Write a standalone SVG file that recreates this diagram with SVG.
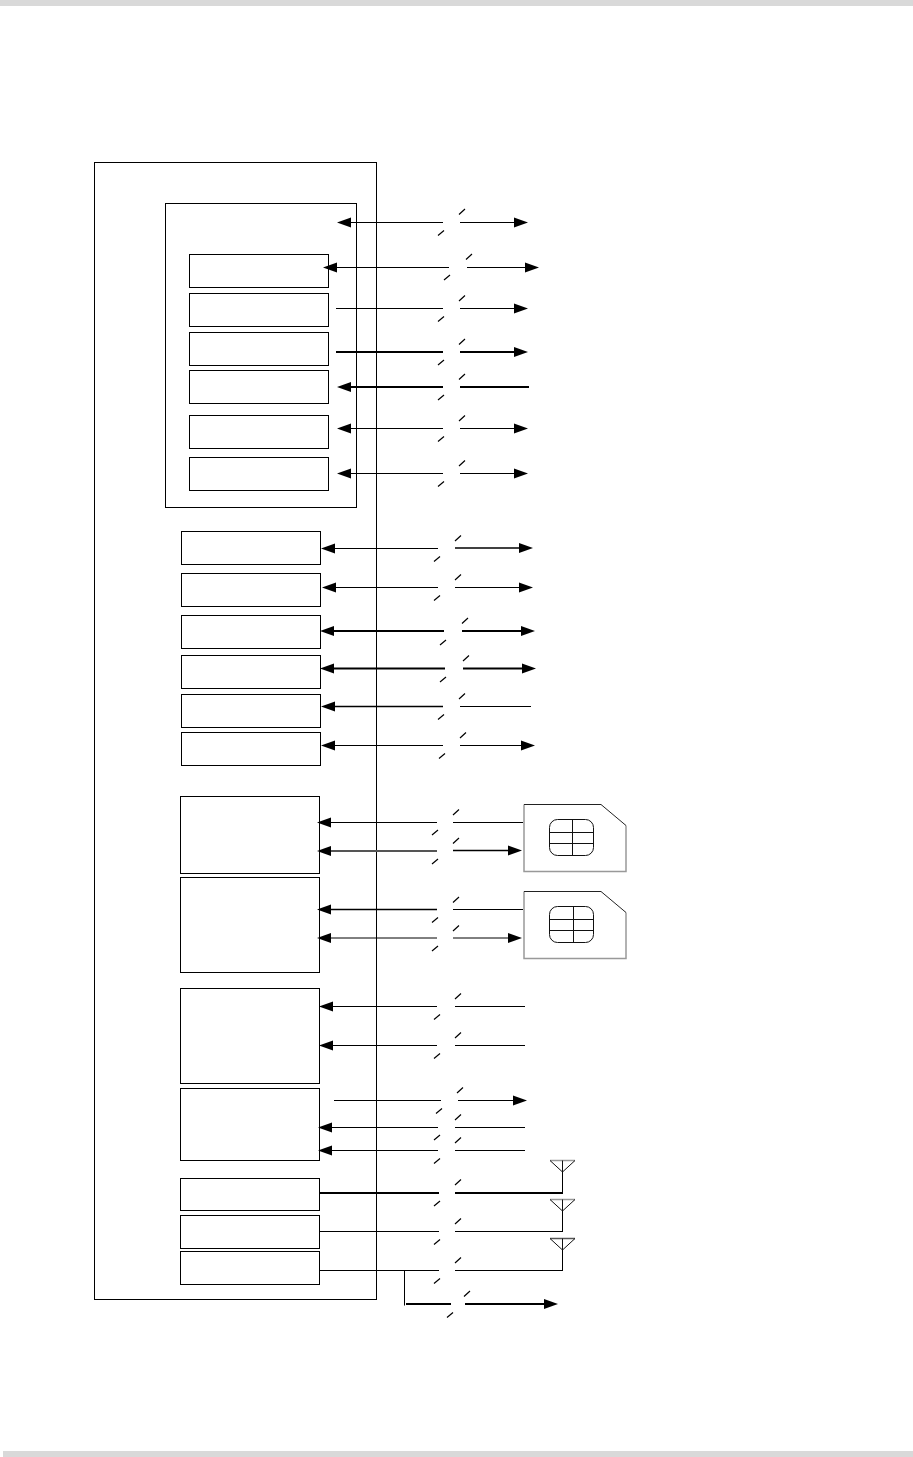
<svg xmlns="http://www.w3.org/2000/svg" width="913" height="1457" viewBox="0 0 913 1457">
<style>
.b{fill:none;stroke:#000;stroke-width:1}
.l{fill:none;stroke:#000;stroke-width:1}
.t{fill:none;stroke:#000;stroke-width:2}
.m{fill:none;stroke:#000;stroke-width:1.5}
.s{fill:none;stroke:#000;stroke-width:1.2}
.as{marker-start:url(#a)}
.ae{marker-end:url(#a)}
.sim{fill:#fff;stroke:none}
.e1{fill:none;stroke:#222;stroke-width:1}
.e2{fill:none;stroke:#999;stroke-width:1.5}
.g{fill:none;stroke:#111;stroke-width:1}
.at{fill:none;stroke:#999;stroke-width:1.5}
</style>
<defs>
<marker id="a" markerUnits="userSpaceOnUse" markerWidth="15" markerHeight="11" refX="4.500" refY="5.500" orient="auto-start-reverse"><path d="M0.500 0.500L14.500 5.500L0.500 10.500z" fill="#000"/></marker>
</defs>
<rect x="0" y="0" width="913" height="6" fill="#d9d9d9"/>
<rect x="3" y="1451" width="910" height="6" fill="#d9d9d9"/>
<g id="outer"><rect class="b" x="94.5" y="162.5" width="282" height="1137"/></g>
<g id="inner"><rect class="b" x="165.5" y="203.5" width="191" height="304"/></g>
<g id="n1"><rect class="b" x="189.5" y="254.5" width="139" height="33"/></g>
<g id="n2"><rect class="b" x="189.5" y="293.5" width="139" height="33"/></g>
<g id="n3"><rect class="b" x="189.5" y="332.5" width="139" height="33"/></g>
<g id="n4"><rect class="b" x="189.5" y="370.5" width="139" height="33"/></g>
<g id="n5"><rect class="b" x="189.5" y="415.5" width="139" height="33"/></g>
<g id="n6"><rect class="b" x="189.5" y="457.5" width="139" height="33"/></g>
<g id="n7"><rect class="b" x="181.5" y="531.5" width="139" height="33"/></g>
<g id="n8"><rect class="b" x="181.5" y="573.5" width="139" height="33"/></g>
<g id="n9"><rect class="b" x="181.5" y="615.5" width="139" height="33"/></g>
<g id="n10"><rect class="b" x="181.5" y="655.5" width="139" height="33"/></g>
<g id="n11"><rect class="b" x="181.5" y="694.5" width="139" height="33"/></g>
<g id="n12"><rect class="b" x="181.5" y="732.5" width="139" height="33"/></g>
<g id="n13"><rect class="b" x="180.5" y="796.5" width="139" height="77"/></g>
<g id="n14"><rect class="b" x="180.5" y="877.5" width="139" height="95"/></g>
<g id="n15"><rect class="b" x="180.5" y="988.5" width="139" height="95"/></g>
<g id="n16"><rect class="b" x="180.5" y="1088.5" width="139" height="72"/></g>
<g id="n17"><rect class="b" x="180.5" y="1178.5" width="139" height="32"/></g>
<g id="n18"><rect class="b" x="180.5" y="1215.5" width="139" height="33"/></g>
<g id="n19"><rect class="b" x="180.5" y="1251.5" width="139" height="33"/></g>
<g id="sim1"><path class="sim" d="M524 804.500H601L626 825.500V871.500H524z"/><path class="e2" d="M524 804.500V871.500H626V825.500"/><path class="e1" d="M524 804.500H601L626 825.500"/><rect class="g" x="549.500" y="819.500" width="44" height="36" rx="8"/><path class="g" d="M572.500 819.500V855.500M549.500 832.500H593.500M549.500 843.500H593.500"/></g>
<g id="sim2"><path class="sim" d="M524 891.500H601L626 912.500V958.500H524z"/><path class="e2" d="M524 891.500V958.500H626V912.500"/><path class="e1" d="M524 891.500H601L626 912.500"/><rect class="g" x="549.500" y="906.500" width="44" height="36" rx="8"/><path class="g" d="M573.500 906.500V942.500M549.500 919.500H593.500M549.500 930.500H593.500"/></g>
<g id="ant1"><path class="at" d="M550 1160.500H575"/><path class="g" d="M550 1160.500L562.500 1172L575 1160.500M562.500 1160.500V1172"/></g>
<g id="ant2"><path class="at" d="M550 1199.500H575"/><path class="g" d="M550 1199.500L562.500 1211L575 1199.500M562.500 1199.500V1211"/></g>
<g id="ant3"><path class="at" style="stroke:#555" d="M550 1238.500H575"/><path class="g" d="M550 1238.500L562.500 1250L575 1238.500M562.500 1238.500V1250"/></g>
<g id="connectors">
<path class="l as" d="M347 222.500H443"/><path class="l ae" d="M460 222.500H518"/><path class="s" d="M438 235.500l6-5M459 214.500l6-5.500"/>
<path class="l as" d="M333 267.500H449"/><path class="l ae" d="M467 267.500H529"/><path class="s" d="M444 280l6-5M466 259.500l6-5.500"/>
<path class="l" d="M336 308.500H443"/><path class="l ae" d="M460 308.500H518"/><path class="s" d="M438 321.500l6-5M459 301l6-5.500"/>
<path class="t" d="M336 352H443"/><path class="t ae" d="M460 352H518"/><path class="s" d="M438 365l6-5M459 344.500l6-5.500"/>
<path class="t as" d="M347 387H443"/><path class="t" d="M460 387H529"/><path class="s" d="M438 400l6-5M459 379.500l6-5.500"/>
<path class="l as" d="M347 428.500H443"/><path class="l ae" d="M460 428.500H518"/><path class="s" d="M438 441.500l6-5M459 421l6-5.500"/>
<path class="l as" d="M347 473.500H443"/><path class="l ae" d="M460 473.500H518"/><path class="s" d="M438 486.500l6-5M459 466l6-5.500"/>
<path class="l as" d="M331 548.500H438"/><path class="m ae" d="M455 548H523"/><path class="s" d="M434 561.500l6-5M455 541l6-5.500"/>
<path class="l as" d="M332 587.500H438"/><path class="l ae" d="M455 587.500H523"/><path class="s" d="M434 600.500l6-5M455 580l6-5.500"/>
<path class="t as" d="M330 631H444"/><path class="t ae" d="M462 631H525"/><path class="s" d="M440 645l6-5M462 623.500l6-5.500"/>
<path class="t as" d="M330 668.500H445"/><path class="t ae" d="M463 668.500H526"/><path class="s" d="M440 682l6-5M463 661l6-5.500"/>
<path class="m as" d="M331 706.500H443"/><path class="l" d="M460 706.500H531"/><path class="s" d="M438 719.500l6-5M459 699l6-5.500"/>
<path class="l as" d="M331 745.500H443"/><path class="l ae" d="M460 745.500H525"/><path class="s" d="M439 758.500l6-5M460 738l6-5.500"/>
<path class="l as" d="M327 822.500H437"/><path class="l" d="M453 822.500H523"/><path class="s" d="M432 835l6-5M453 815l6-5.500"/>
<path class="l as" d="M327 851H437" style="stroke:#555;stroke-width:2"/><path class="m ae" d="M453 850.500H512"/><path class="s" d="M432 864l6-5M453 843.500l6-5.500"/>
<path class="m as" d="M327 909.500H437"/><path class="l" d="M453 909.500H523"/><path class="s" d="M432 922.500l6-5M453 902.500l6-5.500"/>
<path class="l as" d="M327 938H437"/><path class="l ae" d="M453 938H512"/><path class="s" d="M432 951l6-5M453 931l6-5.500"/>
<path class="l as" d="M329 1006.500H437"/><path class="l" d="M455 1006.500H525"/><path class="s" d="M434 1019.500l6-5M455 999l6-5.500"/>
<path class="l as" d="M329 1045.500H437"/><path class="l" d="M455 1045.500H525"/><path class="s" d="M434 1058.500l6-5M455 1038l6-5.500"/>
<path class="l" d="M334 1100.500H441"/><path class="l ae" d="M458 1100.500H517"/><path class="s" d="M436 1113.500l6-5M457 1093l6-5.500"/>
<path class="l as" d="M328 1127.500H438"/><path class="l" d="M455 1127.500H525"/><path class="s" d="M434 1140l6-5M455 1120l6-5.500"/>
<path class="l as" d="M328 1150.500H438"/><path class="l" d="M455 1150.500H525"/><path class="s" d="M434 1163.500l6-5M455 1143l6-5.500"/>
<path class="t" d="M320 1193H439"/><path class="t" d="M455 1193H563"/><path class="s" d="M434 1206l6-5M455 1185l6-5.500"/>
<path class="l" d="M320 1231.500H439"/><path class="l" d="M455 1231.500H563"/><path class="s" d="M434 1244.500l6-5M455 1224l6-5.500"/>
<path class="l" d="M320 1270.500H439"/><path class="l" d="M455 1270.500H563"/><path class="s" d="M434 1283.500l6-5M455 1263l6-5.500"/>
<path class="l" d="M562.500 1172V1193M562.500 1211V1231.500M562.500 1250V1270.500"/>
<path class="l" d="M404.500 1270.500V1305.500"/>
<path class="t" d="M406 1304H451"/><path class="t ae" d="M465 1304H548"/><path class="s" d="M447 1317.500l6-5M464 1296.500l6-5.500"/>
</g>
</svg>
